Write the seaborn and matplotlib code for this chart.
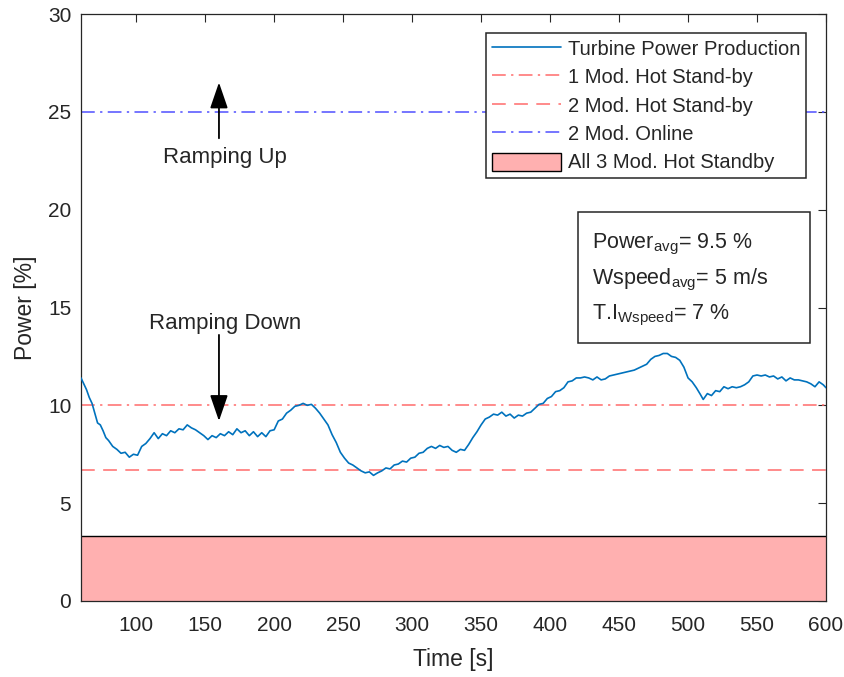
import matplotlib
matplotlib.use("Agg")
import matplotlib.pyplot as plt
import seaborn as sns
import pandas as pd
from matplotlib.patches import Patch, Rectangle
from matplotlib.lines import Line2D

# ---- data ----
time_s = [60, 62, 64, 66, 68, 70, 72, 74, 76, 78, 80, 83, 86, 89, 92, 95, 98, 101, 104, 107,
          110, 113, 116, 119, 122, 125, 128, 131, 134, 137, 140, 143, 146, 149, 152, 155, 158,
          161, 164, 167, 170, 173, 176, 179, 182, 185, 188, 191, 194, 197, 200, 203, 206, 209,
          212, 215, 218, 221, 224, 227, 230, 233, 236, 239, 242, 245, 248, 251, 254, 257, 260,
          263, 266, 269, 272, 275, 278, 281, 284, 287, 290, 293, 296, 299, 302, 305, 308, 311,
          314, 317, 320, 323, 326, 329, 332, 335, 338, 341, 344, 347, 350, 353, 356, 359, 362,
          365, 368, 371, 374, 377, 380, 383, 386, 389, 392, 395, 398, 401, 404, 407, 410, 413,
          416, 419, 422, 425, 428, 431, 434, 437, 440, 443, 446, 449, 452, 455, 458, 461, 464,
          467, 470, 473, 476, 479, 482, 485, 488, 491, 494, 497, 500, 503, 506, 509, 511, 514,
          517, 520, 523, 526, 529, 532, 535, 538, 541, 544, 547, 550, 553, 556, 559, 562, 565,
          568, 571, 574, 577, 580, 583, 586, 589, 592, 595, 598, 600]
power_pct = [11.4, 11.1, 10.8, 10.4, 10.1, 9.6, 9.1, 9.0, 8.7, 8.35, 8.2, 7.9, 7.75, 7.55, 7.6,
             7.35, 7.5, 7.45, 7.9, 8.05, 8.3, 8.6, 8.3, 8.55, 8.45, 8.7, 8.6, 8.8, 8.75, 9.0,
             8.85, 8.75, 8.6, 8.45, 8.25, 8.45, 8.35, 8.55, 8.45, 8.65, 8.5, 8.8, 8.6, 8.7,
             8.45, 8.65, 8.4, 8.6, 8.4, 8.7, 8.75, 9.2, 9.3, 9.6, 9.75, 9.95, 10.0, 10.1, 10.0,
             10.05, 9.85, 9.6, 9.3, 9.0, 8.5, 8.1, 7.6, 7.3, 7.05, 6.95, 6.8, 6.65, 6.55, 6.6,
             6.42, 6.55, 6.65, 6.8, 6.75, 6.95, 7.0, 7.15, 7.1, 7.3, 7.35, 7.55, 7.6, 7.8, 7.9,
             7.8, 7.95, 7.85, 7.9, 7.7, 7.6, 7.75, 7.7, 8.0, 8.35, 8.65, 9.0, 9.3, 9.4, 9.55,
             9.5, 9.65, 9.45, 9.55, 9.35, 9.5, 9.45, 9.6, 9.65, 9.85, 10.05, 10.1, 10.35, 10.45,
             10.7, 10.75, 10.9, 11.2, 11.25, 11.4, 11.4, 11.45, 11.4, 11.3, 11.45, 11.3, 11.35,
             11.5, 11.55, 11.6, 11.65, 11.7, 11.75, 11.8, 11.9, 12.0, 12.1, 12.35, 12.5, 12.55,
             12.65, 12.65, 12.5, 12.45, 12.3, 11.95, 11.4, 11.2, 10.9, 10.55, 10.3, 10.6, 10.5,
             10.75, 10.7, 10.95, 10.85, 10.95, 10.9, 10.95, 11.05, 11.2, 11.5, 11.55, 11.5,
             11.55, 11.45, 11.5, 11.35, 11.45, 11.25, 11.4, 11.3, 11.3, 11.25, 11.2, 11.1,
             10.95, 11.2, 11.05, 10.9]

one_mod_hot = 10.0
two_mod_hot = 6.67
two_mod_online = 25.0
all3_hot = 3.33

x_ticks = [100, 150, 200, 250, 300, 350, 400, 450, 500, 550, 600]
y_ticks = [0, 5, 10, 15, 20, 25, 30]

# ---- style ----
sns.set_style("white")
plt.rcParams['font.family'] = ['Liberation Sans', 'DejaVu Sans']
plt.rcParams['mathtext.fontset'] = 'custom'
plt.rcParams['mathtext.rm'] = 'Liberation Sans'
plt.rcParams['mathtext.it'] = 'Liberation Sans'

fig = plt.figure(figsize=(8.45, 6.77), dpi=100)
# axes box: x 81..826 px, y 14..601 px
ax = fig.add_axes([81 / 845, (677 - 601) / 677, 745 / 845, 587 / 677])

axcol = '#262626'
red = '#FF6B6B'
blue = '#5050FF'
pink = '#FFB0B0'
dashdot = (0, (9, 3.5, 1.5, 3.5))
dashed = (0, (9, 5.5))

ax.axhspan(0, all3_hot, facecolor=pink, edgecolor='none', zorder=1)
ax.axhline(all3_hot, color='black', lw=1.0, zorder=2)
ax.axhline(one_mod_hot, color=red, lw=1.1, ls=dashdot, zorder=2)
ax.axhline(two_mod_hot, color=red, lw=1.1, ls=dashed, zorder=2)
ax.axhline(two_mod_online, color=blue, lw=1.1, ls=dashdot, zorder=2)

df = pd.DataFrame({'Time': time_s, 'Power': power_pct})
sns.lineplot(data=df, x='Time', y='Power', ax=ax, color='#0072BD', lw=1.2, zorder=3)

ax.set_xlim(60, 600)
ax.set_ylim(0, 30)
ax.set_xticks(x_ticks)
ax.set_yticks(y_ticks)
ax.tick_params(direction='in', length=6, width=0.8, colors=axcol, labelsize=15,
               top=True, right=True, labelcolor=axcol)
ax.tick_params(axis='x', pad=11)
ax.tick_params(axis='y', pad=7)
for s in ax.spines.values():
    s.set_color(axcol)
    s.set_linewidth(0.9)
ax.set_xlabel('Time [s]', fontsize=16.5, color=axcol, labelpad=9.5)
ax.set_ylabel('Power [%]', fontsize=16.5, color=axcol, labelpad=8)

# annotations
arrow = dict(arrowstyle='-|>,head_length=1.6,head_width=0.55', color='black', lw=1.3,
             shrinkA=0, shrinkB=0)
ax.annotate('', xy=(160, 26.5), xytext=(160, 23.65), arrowprops=arrow)
ax.text(164.5, 22.65, 'Ramping Up', ha='center', va='center', fontsize=16, color=axcol)
ax.text(164.5, 14.2, 'Ramping Down', ha='center', va='center', fontsize=16, color=axcol)
ax.annotate('', xy=(160, 9.2), xytext=(160, 13.6), arrowprops=arrow)

# text box
box = Rectangle((0.667, 0.4395), 0.3115, 0.2232, transform=ax.transAxes,
                facecolor='white', edgecolor=axcol, lw=1.1, zorder=5)
ax.add_patch(box)
box_lines = ['Power$_{\\rm avg}$= 9.5 %', 'Wspeed$_{\\rm avg}$= 5 m/s', 'T.I$_{\\rm Wspeed}$= 7 %']
box_y = [0.615, 0.5537, 0.494]
for s, yy in zip(box_lines, box_y):
    ax.text(0.6855, yy, s, transform=ax.transAxes, ha='left', va='center_baseline',
            fontsize=15.5, color=axcol, zorder=6)

# legend
handles = [
    Line2D([], [], color='#0072BD', lw=1.2),
    Line2D([], [], color=red, lw=1.1, ls=dashdot),
    Line2D([], [], color=red, lw=1.1, ls=dashed),
    Line2D([], [], color=blue, lw=1.1, ls=dashdot),
    Patch(facecolor=pink, edgecolor='black', lw=1.0),
]
labels = ['Turbine Power Production', '1 Mod. Hot Stand-by', '2 Mod. Hot Stand-by',
          '2 Mod. Online', 'All 3 Mod. Hot Standby']
leg = ax.legend(handles, labels, loc='upper right', bbox_to_anchor=(0.9732, 0.9676),
                fontsize=14.5, frameon=True, fancybox=False, framealpha=1, edgecolor=axcol,
                handlelength=3.4, handleheight=1.0, handletextpad=0.35, labelspacing=0.42,
                borderpad=0.3, borderaxespad=0)
leg.get_frame().set_linewidth(1.1)
leg.set_zorder(7)
for t in leg.get_texts():
    t.set_color(axcol)

fig.savefig('out.png', dpi=100)
